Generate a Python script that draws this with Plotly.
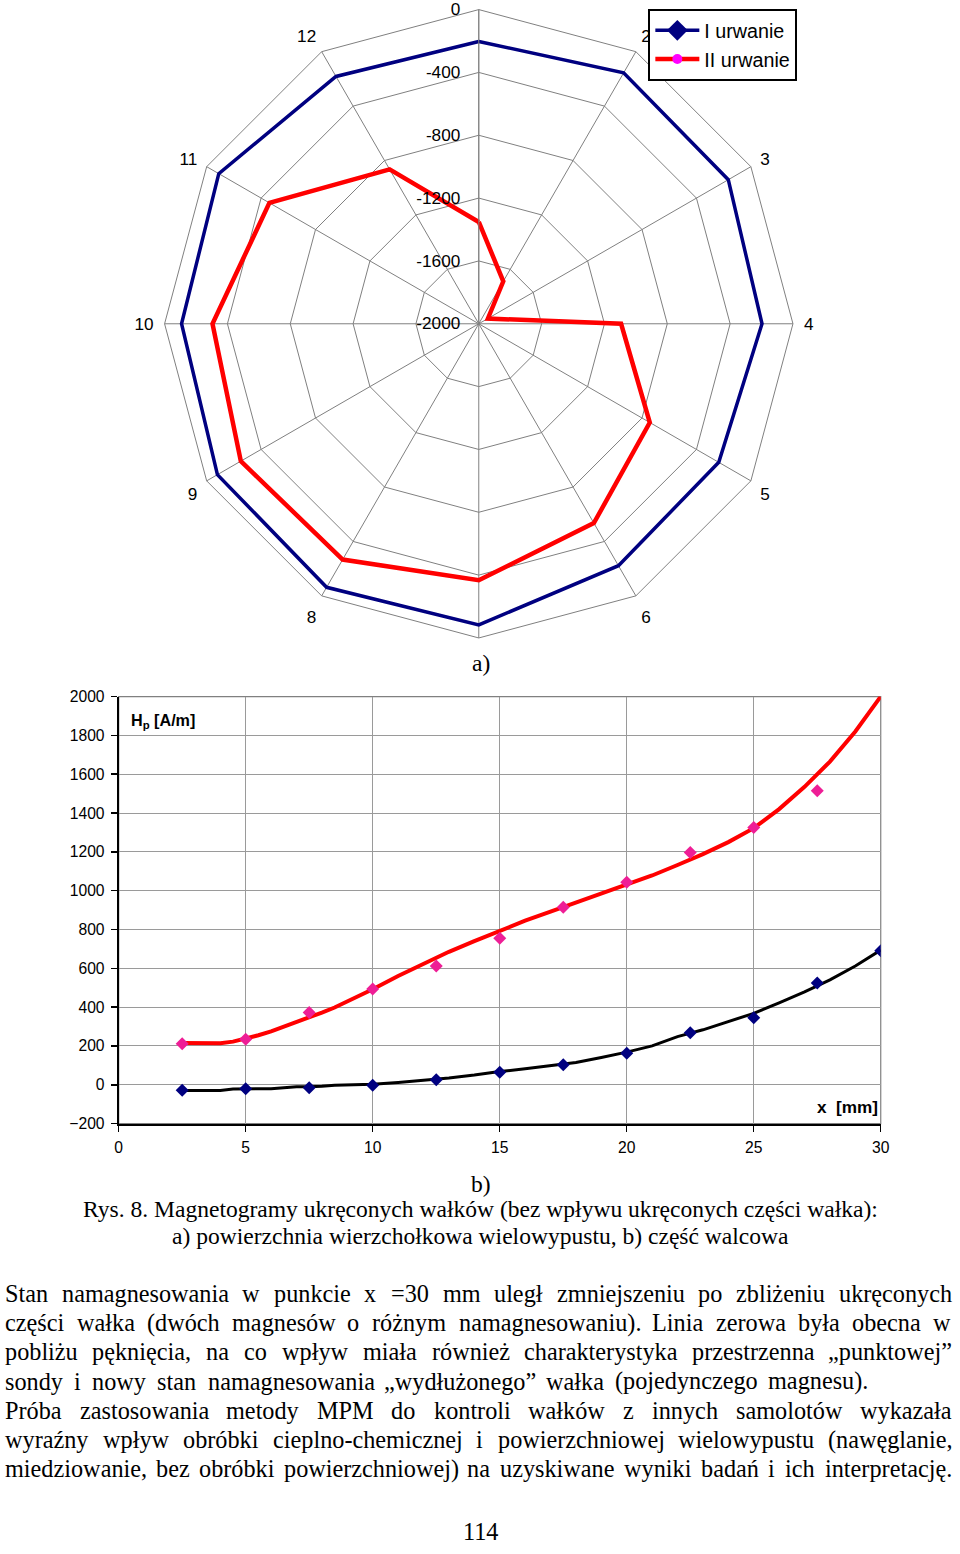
import plotly.graph_objects as go

W, H = 960, 1554

# ---------------- data: a) radar chart ----------------
angle_categories = [str(i) for i in range(1, 13)]
angle_labels = ["", "2", "3", "4", "5", "6", "", "8", "9", "10", "11", "12"]
radial_ticks = [0, -400, -800, -1200, -1600, -2000]
urwanie_1 = [-203, -156, -166, -197, -236, -222, -83, -63, -79, -108, -89, -182]
urwanie_2 = [-1352, -1688, -1933, -1094, -743, -535, -368, -267, -251, -305, -461, -865]
series_names = ["I urwanie", "II urwanie"]

# ---------------- data: b) line chart ----------------
x_red_points = [2.5, 5, 7.5, 10, 12.5, 15, 17.5, 20, 22.5, 25, 27.5]
hp_red_points = [211, 234, 372, 493, 612, 755, 914, 1043, 1196, 1325, 1515]
x_black_points = [2.5, 5, 7.5, 10, 12.5, 15, 17.5, 20, 22.5, 25, 27.5, 30]
hp_black_points = [-28, -21, -15, -3, 26, 65, 103, 162, 268, 345, 524, 690]
trend_x = [2.5, 3, 3.5, 4, 4.5, 5, 5.5, 6, 6.5, 7, 7.5, 8, 8.5, 9, 9.5, 10,
           11, 12, 13, 14, 15, 16, 17, 18, 19, 20, 21, 22, 23, 24, 25, 26,
           27, 28, 29, 30]
trend_red = [215, 213, 212, 214, 222, 237, 255, 275, 298, 322, 348, 372, 398,
             428, 460, 492, 560, 625, 685, 740, 794, 845, 892, 938, 982, 1028,
             1078, 1132, 1188, 1250, 1322, 1420, 1535, 1665, 1820, 2000]
trend_black = [-30, -30, -30, -30, -22, -20, -20, -20, -15, -10, -10, -8, -2,
               0, 1, 3, 12, 22, 35, 50, 68, 82, 98, 115, 140, 168, 200, 248,
               283, 325, 368, 422, 478, 540, 612, 694]
x_ticks = [0, 5, 10, 15, 20, 25, 30]
y_ticks = [-200, 0, 200, 400, 600, 800, 1000, 1200, 1400, 1600, 1800, 2000]

# ---------------- text ----------------
caption_b = "b)"
caption_a = "a)"
caption_lines = [
    "Rys. 8. Magnetogramy ukręconych wałków (bez wpływu ukręconych części wałka):",
    "a) powierzchnia wierzchołkowa wielowypustu, b) część walcowa",
]
body_lines = [
    "Stan namagnesowania w punkcie x =30 mm uległ zmniejszeniu po zbliżeniu ukręconych",
    "części wałka (dwóch magnesów o różnym namagnesowaniu). Linia zerowa była obecna w",
    "pobliżu pęknięcia, na co wpływ miała również charakterystyka przestrzenna „punktowej”",
    "sondy i nowy stan namagnesowania „wydłużonego” wałka (pojedynczego magnesu).",
    "Próba zastosowania metody MPM do kontroli wałków z innych samolotów wykazała",
    "wyraźny wpływ obróbki cieplno-chemicznej i powierzchniowej wielowypustu (nawęglanie,",
    "miedziowanie, bez obróbki powierzchniowej) na uzyskiwane wyniki badań i ich interpretację.",
]
body_line_ends = [960, 960, 960, 866, 960, 960, 956]
page_number = "114"

SANS = "Liberation Sans, Arial, sans-serif"
SERIF = "Liberation Serif, Times New Roman, serif"

# the photographed page shows the figure slightly inset/scaled; compensate
AX, AY, S = 2.0, 8.5, 0.989
def px(t):   # target image x (px) -> figure px
    return (t - AX) / S
def py(t):   # target image y (px) -> figure px (from top)
    return (t - AY) / S
def fx(t):
    return px(t) / W
def fy(t):
    return 1 - py(t) / H
def fs(size):
    return size / S

fig = go.Figure()

theta_closed = angle_categories + angle_categories[:1]
fig.add_trace(go.Scatterpolar(
    r=urwanie_1 + urwanie_1[:1], theta=theta_closed, name=series_names[0],
    mode="lines+markers",
    line=dict(color="#000080", width=3.5),
    marker=dict(symbol="diamond", size=17, color="#000080"),
    subplot="polar"))
fig.add_trace(go.Scatterpolar(
    r=urwanie_2 + urwanie_2[:1], theta=theta_closed, name=series_names[1],
    mode="lines+markers",
    line=dict(color="#FF0000", width=4.5),
    marker=dict(symbol="circle", size=10, color="#FF00FF"),
    subplot="polar"))

fig.add_trace(go.Scatter(x=trend_x, y=trend_red, mode="lines",
                         line=dict(color="#FF0000", width=4), showlegend=False,
                         xaxis="x", yaxis="y"))
fig.add_trace(go.Scatter(x=x_red_points, y=hp_red_points, mode="markers",
                         marker=dict(symbol="diamond", size=10, color="#EE1E96"),
                         showlegend=False, xaxis="x", yaxis="y"))
fig.add_trace(go.Scatter(x=trend_x, y=trend_black, mode="lines",
                         line=dict(color="#000000", width=3), showlegend=False,
                         xaxis="x", yaxis="y"))
fig.add_trace(go.Scatter(x=x_black_points, y=hp_black_points, mode="markers",
                         marker=dict(symbol="diamond", size=10, color="#000080"),
                         showlegend=False, xaxis="x", yaxis="y"))

# polar geometry in target pixels: center (478,323), radius 315
cx, cy, R = 478, 323, 315
pcx, pcy, pR = px(cx), py(cy), R / S
polar_dom_x = [max(0, (pcx - pR) / W), min(1, (pcx + pR) / W)]
polar_dom_y = [max(0, 1 - (pcy + pR) / H), min(1, 1 - (pcy - pR) / H)]

# cartesian plot area in target pixels
x0t, x1t, y0t, y1t = 117, 881, 696, 1123

fig.update_layout(
    width=W, height=H,
    margin=dict(l=0, r=0, t=0, b=0),
    paper_bgcolor="white", plot_bgcolor="white",
    font=dict(family=SANS, color="black"),
    polar=dict(
        domain=dict(x=polar_dom_x, y=polar_dom_y),
        bgcolor="white",
        gridshape="linear",
        angularaxis=dict(
            type="category", categoryarray=angle_categories,
            direction="clockwise", rotation=90,
            tickvals=angle_categories, ticktext=angle_labels,
            showline=True, linecolor="#808080", linewidth=1,
            gridcolor="#808080", gridwidth=1,
            ticks="outside", ticklen=7, tickcolor="rgba(0,0,0,0)",
            tickfont=dict(size=fs(17), family=SANS, color="black"),
        ),
        radialaxis=dict(
            range=[-2000, 0], tickvals=radial_ticks,
            ticktext=[str(v) for v in radial_ticks],
            angle=90, tickangle=90, side="counterclockwise",
            showline=True, linecolor="#808080", linewidth=1,
            gridcolor="#808080", gridwidth=1,
            ticks="outside", ticklen=12, tickcolor="rgba(0,0,0,0)",
            tickfont=dict(size=fs(17), family=SANS, color="black"),
        ),
    ),
    legend=dict(
        x=fx(648), y=min(1, fy(7)), xanchor="left", yanchor="top",
        bgcolor="white", bordercolor="black", borderwidth=2,
        font=dict(size=fs(19.5), family=SANS, color="black"),
        itemwidth=44, tracegroupgap=0,
    ),
    xaxis=dict(
        domain=[fx(x0t), fx(x1t)], range=[0, 30], tickvals=x_ticks,
        showgrid=True, gridcolor="#9a9a9a", gridwidth=1, zeroline=False,
        showline=True, linecolor="black", linewidth=2,
        ticks="outside", ticklen=6, tickcolor="black", tickwidth=1.5,
        ticklabelstandoff=3,
        tickfont=dict(size=fs(15.5), family=SANS), anchor="y",
    ),
    yaxis=dict(
        domain=[fy(y1t), fy(y0t)], range=[-200, 2000], tickvals=y_ticks,
        showgrid=True, gridcolor="#9a9a9a", gridwidth=1, zeroline=False,
        showline=True, linecolor="black", linewidth=2,
        ticks="outside", ticklen=6, tickcolor="black", tickwidth=1.5,
        ticklabelstandoff=3,
        tickfont=dict(size=fs(15.5), family=SANS), anchor="x",
    ),
    shapes=[dict(type="rect", xref="x domain", yref="y domain", x0=0, x1=1, y0=0, y1=1,
                 line=dict(color="#808080", width=1.2), layer="below")],
)

ann = []
def add_text(text, x, y, size, family=SERIF, xanchor="center", yanchor="middle"):
    ann.append(dict(text=text, x=fx(x), y=fy(y), xref="paper", yref="paper",
                    xanchor=xanchor, yanchor=yanchor, showarrow=False,
                    font=dict(size=fs(size), family=family, color="black")))

add_text("<b>H<sub>p</sub> [A/m]</b>", 127, 720, 16, family=SANS, xanchor="left")
add_text("<b>x  [mm]</b>", 880, 1106, 17, family=SANS, xanchor="right")
add_text(caption_a, 480, 662, 23.3)
add_text(caption_b, 480, 1183, 23.3)
add_text(caption_lines[0], 480, 1208, 23.3)
add_text(caption_lines[1], 480, 1235, 23.3)
# page number: keep it inside the visible page
ann.append(dict(text=page_number, x=fx(480), y=0, xref="paper", yref="paper",
                xanchor="center", yanchor="bottom", showarrow=False, borderpad=0,
                font=dict(size=fs(24), family=SERIF, color="black")))

# Times metrics (units per 1000 em) for justified body text
TW = {' ': 250, 'a': 444, 'b': 500, 'c': 444, 'd': 500, 'e': 444, 'f': 333, 'g': 500,
      'h': 500, 'i': 278, 'j': 278, 'k': 500, 'l': 278, 'm': 778, 'n': 500, 'o': 500,
      'p': 500, 'q': 500, 'r': 333, 's': 389, 't': 278, 'u': 500, 'v': 500, 'w': 722,
      'x': 500, 'y': 500, 'z': 444, 'ł': 278, 'ż': 444, 'ź': 444, 'ę': 444, 'ą': 444,
      'ś': 389, 'ć': 444, 'ń': 500, 'ó': 500, 'A': 722, 'B': 667, 'C': 667, 'D': 722,
      'E': 611, 'F': 556, 'G': 722, 'H': 722, 'I': 333, 'J': 389, 'K': 722, 'L': 611,
      'M': 889, 'N': 722, 'O': 722, 'P': 556, 'R': 667, 'S': 556, 'T': 611, 'U': 722,
      'W': 944, 'Z': 611, '0': 500, '1': 500, '2': 500, '3': 500, '4': 500, '5': 500,
      '6': 500, '7': 500, '8': 500, '9': 500, ',': 250, '.': 250, '(': 333, ')': 333,
      ':': 278, '=': 564, '-': 333, '„': 444, '”': 444}

BODY_SIZE = fs(24)
body_y0, body_dy = 1293, 29.2
for li, line in enumerate(body_lines):
    words = line.split(" ")
    widths = [sum(TW.get(ch, 500) for ch in wd) * BODY_SIZE / 1000 for wd in words]
    total = sum(widths)
    x_start = max(0.0, px(0))
    x_end = min(W - 1.5, px(body_line_ends[li]))
    gap = (x_end - x_start - total) / (len(words) - 1)
    xpos = x_start
    yf = fy(body_y0 + li * body_dy)
    for wd, wdt in zip(words, widths):
        ann.append(dict(text=wd, x=xpos / W, y=yf, xref="paper", yref="paper",
                        xanchor="left", yanchor="middle", showarrow=False, borderpad=0,
                        font=dict(size=BODY_SIZE, family=SERIF, color="black")))
        xpos += wdt + gap

fig.update_layout(annotations=ann)
fig.write_html(
    "out.html",
    config={"displayModeBar": False, "staticPlot": True},
    post_script=(
        "var gd=document.getElementById('{plot_id}');"
        "gd.style.position='fixed';gd.style.left='0px';gd.style.top='0px';"
        "document.documentElement.style.margin='0px';"
        "document.documentElement.style.overflow='hidden';"
        "document.body.style.margin='0px';"
        "document.body.style.overflow='hidden';"
    ),
)
